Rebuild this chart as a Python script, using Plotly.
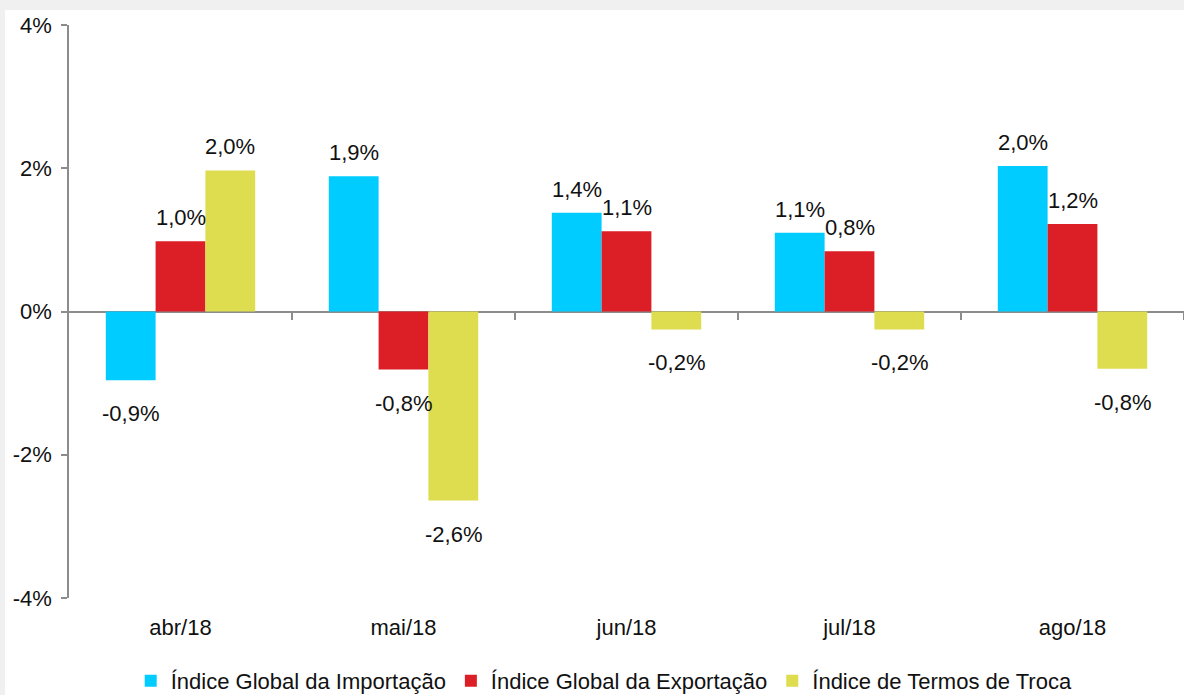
import plotly.graph_objects as go

categories = ["abr/18", "mai/18", "jun/18", "jul/18", "ago/18"]
series_names = ["Índice Global da Importação", "Índice Global da Exportação", "Índice de Termos de Troca"]
importacao = [-0.96, 1.89, 1.38, 1.10, 2.03]
exportacao = [0.98, -0.81, 1.12, 0.84, 1.22]
termos = [1.97, -2.64, -0.25, -0.25, -0.80]
importacao_labels = ["-0,9%", "1,9%", "1,4%", "1,1%", "2,0%"]
exportacao_labels = ["1,0%", "-0,8%", "1,1%", "0,8%", "1,2%"]
termos_labels = ["2,0%", "-2,6%", "-0,2%", "-0,2%", "-0,8%"]
y_ticks = [-4, -2, 0, 2, 4]
y_tick_labels = ["-4%", "-2%", "0%", "2%", "4%"]

colors = ["#00ccff", "#dc1f26", "#dedc4f"]
FONT = "Liberation Sans, Arial, sans-serif"
FS = 22
BARGAP = 0.33

all_values = [importacao, exportacao, termos]
all_labels = [importacao_labels, exportacao_labels, termos_labels]

fig = go.Figure()
x_idx = list(range(len(categories)))
for name, vals, col in zip(series_names, all_values, colors):
    fig.add_trace(go.Bar(x=x_idx, y=vals, name=name, marker=dict(color=col, line=dict(width=0))))

# dummy trace for the tick axis on the zero line
fig.add_trace(go.Scatter(x=[None], y=[None], xaxis="x2", showlegend=False, hoverinfo="skip"))

bw = (1 - BARGAP) / 3
annotations = []
for k, (vals, labs) in enumerate(zip(all_values, all_labels)):
    for i, (v, t) in enumerate(zip(vals, labs)):
        pos = v >= 0
        annotations.append(dict(
            x=i + (k - 1) * bw, y=v, xref="x", yref="y", text=t, showarrow=False,
            yanchor="bottom" if pos else "top", yshift=9 if pos else -19,
            font=dict(family=FONT, size=FS, color="#111111")))

n = len(categories)
fig.update_layout(
    width=1184, height=695,
    margin=dict(l=69, r=0, t=25, b=97, autoexpand=False),
    paper_bgcolor="#f0f0f0", plot_bgcolor="white",
    barmode="group", bargap=BARGAP, bargroupgap=0,
    font=dict(family=FONT, size=FS, color="#111111"),
    annotations=annotations,
    showlegend=True,
    legend=dict(orientation="h", x=0.48, xanchor="center", yref="container", y=14 / 695,
                yanchor="middle",
                font=dict(family=FONT, size=FS, color="#111111"), bgcolor="rgba(0,0,0,0)",
                traceorder="normal"),
    xaxis=dict(range=[-0.5, n - 0.5], tickvals=x_idx, ticktext=categories, showline=False,
               showgrid=False, zeroline=False, ticks="", ticklabelstandoff=14,
               tickfont=dict(family=FONT, size=FS, color="#111111")),
    xaxis2=dict(range=[-0.5, n - 0.5], overlaying="x", anchor="free", position=0.5,
                tickvals=[i + 0.5 for i in range(n)], ticks="outside", ticklen=7,
                tickcolor="#8c8c8c", tickwidth=1.5, showticklabels=False, showgrid=False,
                zeroline=False, showline=False),
    yaxis=dict(range=[-4, 4], tickvals=y_ticks, ticktext=y_tick_labels, showgrid=False,
               zeroline=True, zerolinecolor="#8c8c8c", zerolinewidth=1.5,
               showline=True, linecolor="#8c8c8c", linewidth=1.5,
               ticks="outside", ticklen=6, tickcolor="#8c8c8c", tickwidth=1.5,
               ticklabelstandoff=5,
               tickfont=dict(family=FONT, size=FS, color="#111111")),
    shapes=[dict(type="rect", xref="paper", yref="paper",
                 x0=(5 - 69) / 1115, x1=1.02, y0=(598 - 710) / 573, y1=(598 - 10) / 573,
                 fillcolor="white", line=dict(width=0), layer="below")],
)

fig.write_html("out.html", config={"displayModeBar": False},
               post_script="document.body.style.margin='0';")
